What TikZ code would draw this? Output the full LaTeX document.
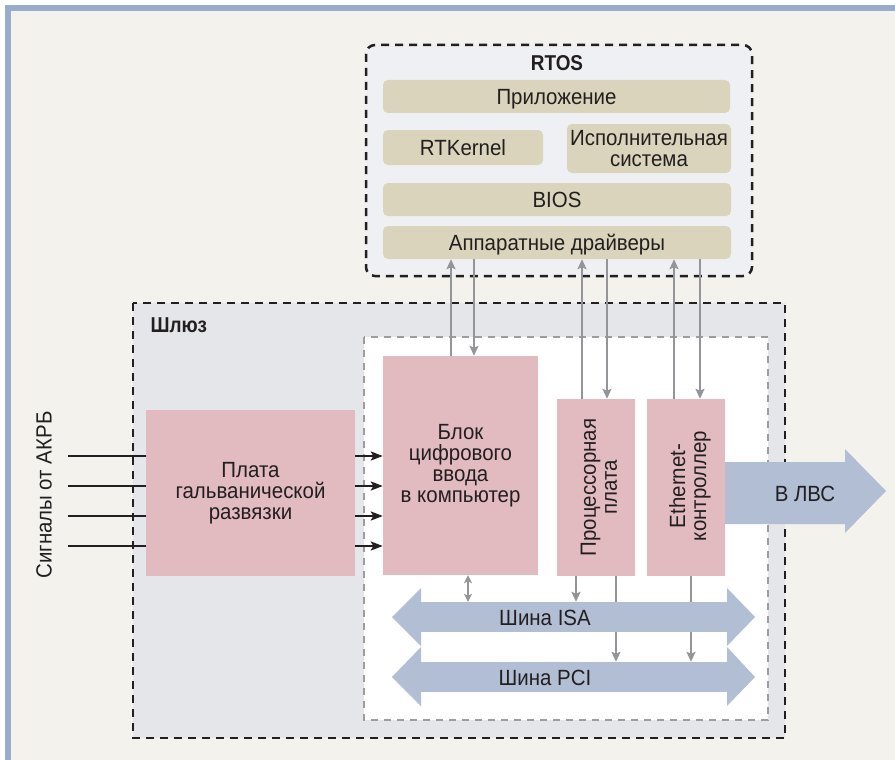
\documentclass[tikz,border=0pt]{standalone}
\usepackage{fontspec}
\setmainfont[FakeStretch=0.93]{Liberation Sans}
\newfontfamily\titlefont[FakeStretch=0.88]{Liberation Sans}
\usetikzlibrary{arrows.meta}
\definecolor{bgc}{HTML}{F3F2EC}
\definecolor{framec}{HTML}{9AACCB}
\definecolor{rtosc}{HTML}{EFF0F3}
\definecolor{gatec}{HTML}{E5E6E9}
\definecolor{tanc}{HTML}{D9D4BB}
\definecolor{pinkc}{HTML}{E1BBC0}
\definecolor{busc}{HTML}{B1BED4}
\definecolor{glinec}{HTML}{939598}
\definecolor{innerc}{HTML}{9D9D9D}
\definecolor{txtc}{HTML}{231F20}
\tikzset{
  basefont/.style={font=\fontsize{22}{21}\selectfont, text=txtc},
  titletext/.style={font=\fontsize{21.5}{23}\titlefont\bfseries, text=txtc},
  tanbox/.style={basefont, fill=tanc, rounded corners=5pt, inner sep=0pt, align=center},
  oneline/.style={text height=18pt, text depth=3pt},
  pinkbox/.style={basefont, fill=pinkc, inner sep=0pt, align=center},
  garrow/.style={draw=glinec, line width=2.2pt, -{Stealth[length=10pt,width=9pt,inset=2pt]}},
  gboth/.style={draw=glinec, line width=2.2pt, {Stealth[length=8pt,width=8pt,inset=2pt]}-{Stealth[length=8pt,width=8pt,inset=2pt]}},
  gline/.style={draw=glinec, line width=2.2pt},
  sigline/.style={draw=txtc, line width=2.2pt},
  sigarrow/.style={draw=txtc, line width=2.2pt, -{Stealth[length=12pt,width=9pt,inset=2.5pt]}},
  dashframe/.style={draw=txtc, line width=2.5pt, dash pattern=on 8pt off 6pt},
  busfill/.style={fill=busc},
}
\begin{document}
\begin{tikzpicture}[x=1pt,y=-1pt]
\useasboundingbox (0,0) rectangle (895,760);
% background and frame
\fill[white] (0,0) rectangle (895,760);
\fill[bgc] (11,11) rectangle (895,760);
\fill[framec] (5,5) rectangle (895,11);
\fill[framec] (5,5) rectangle (11,760);

% gateway box
\path[fill=gatec, dashframe] (133,303) rectangle (785,738);
\node[titletext, anchor=west] (gwtitle) at (147,325) {Шлюз};
% inner box
\path[fill=white, draw=innerc, line width=2.2pt, dash pattern=on 7pt off 6pt] (364,337) rectangle (768,720);

% RTOS box
\path[fill=rtosc, dashframe, rounded corners=9pt] (366,45) rectangle (752,276);
\node[titletext] (rtostitle) at (557,63) {RTOS};
\node[tanbox, oneline, minimum width=347pt, minimum height=33pt] (app) at (556.5,96.5) {Приложение};
\node[tanbox, oneline, minimum width=160pt, minimum height=35pt] (rtk) at (463,147.5) {RTKernel};
\node[tanbox, minimum width=164pt, minimum height=49pt] (isp) at (649,148.5) {Исполнительная\\система};
\node[tanbox, oneline, minimum width=348pt, minimum height=33pt] (bios) at (557,199.5) {BIOS};
\node[tanbox, oneline, minimum width=348pt, minimum height=33pt] (drv) at (557,242.5) {Аппаратные драйверы};

% gateway boards
\node[pinkbox, minimum width=209pt, minimum height=166pt] (plata) at (250.5,493) {Плата\\гальванической\\развязки};
\node[pinkbox, minimum width=155pt, minimum height=219pt] (blok) at (460.5,465.5) {Блок\\цифрового\\ввода\\в компьютер};
\node[pinkbox, minimum width=78pt, minimum height=177pt] (proc) at (596,487.5) {};
\node[basefont, rotate=90, align=center] (proctext) at (599,487.5) {Процессорная\\плата};
\node[pinkbox, minimum width=78pt, minimum height=177pt] (eth) at (686,487.5) {};
\node[basefont, rotate=90, align=center] (ethtext) at (690,486) {Ethernet-\\контроллер};

% signals
\node[basefont, rotate=90] (siglabel) at (44,495) {Сигналы от АКРБ};
\foreach \i/\yy in {1/456,2/486,3/516,4/546}{
  \coordinate (s\i) at (68,\yy);
  \draw[sigline] (s\i) -- (s\i -| plata.west);
  \draw[sigarrow] (plata.east |- s\i) -- (blok.west |- s\i);
}

% connections RTOS <-> boards
\draw[garrow] (451,0 |- blok.north) -- (451,0 |- drv.south);
\draw[garrow] (474,0 |- drv.south) -- (474,0 |- blok.north);
\draw[garrow] (582,0 |- proc.north) -- (582,0 |- drv.south);
\draw[garrow] (607,0 |- drv.south) -- (607,0 |- proc.north);
\draw[garrow] (674,0 |- eth.north) -- (674,0 |- drv.south);
\draw[garrow] (700,0 |- drv.south) -- (700,0 |- eth.north);

% buses
\node[busfill, minimum width=306pt, minimum height=30pt, inner sep=0pt] (isa) at (574,617) {};
\node[busfill, minimum width=306pt, minimum height=30pt, inner sep=0pt] (pci) at (574,677) {};

\draw[gboth] (468,0 |- blok.south) -- (468,0 |- isa.north);
\draw[garrow] (576,0 |- proc.south) -- (576,0 |- isa.north);
\draw[gline] (616,0 |- proc.south) -- (616,0 |- isa.north);
\draw[garrow] (616,0 |- isa.south) -- (616,0 |- pci.north);
\draw[gline] (691,0 |- eth.south) -- (691,0 |- isa.north);
\draw[garrow] (691,0 |- isa.south) -- (691,0 |- pci.north);

\fill[busc] (421,588) -- (392,617) -- (421,646) -- cycle;
\fill[busc] (727,588) -- (755,617) -- (727,646) -- cycle;
\fill[busc] (421,647) -- (392,677) -- (421,706) -- cycle;
\fill[busc] (727,647) -- (755,677) -- (727,706) -- cycle;
\node[basefont] (isalabel) at (545,618) {Шина ISA};
\node[basefont] (pcilabel) at (545,678) {Шина PCI};

% LAN arrow
\fill[busc] (eth.east |- 0,462) -- (845,462) -- (845,449) -- (886,491) -- (845,533) -- (845,524) -- (eth.east |- 0,524) -- cycle;
\node[basefont] (lan) at (805,494) {В ЛВС};
\end{tikzpicture}
\end{document}
